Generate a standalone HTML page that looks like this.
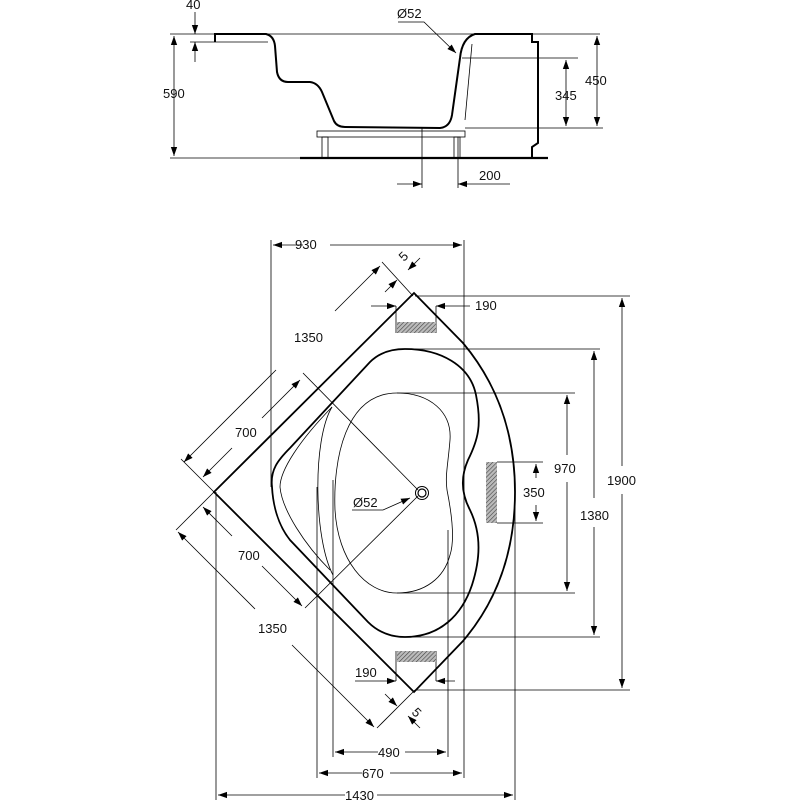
<!DOCTYPE html>
<html><head><meta charset="utf-8"><style>
html,body{margin:0;padding:0;background:#fff;}
svg{display:block;}
text{font-family:"Liberation Sans",Arial,sans-serif;font-size:13px;fill:#111;}
</style></head><body>
<svg width="800" height="800" viewBox="0 0 800 800" xmlns="http://www.w3.org/2000/svg">
<defs>
<marker id="a" viewBox="0 0 10 10" refX="10" refY="5" markerWidth="9" markerHeight="9" orient="auto-start-reverse" markerUnits="userSpaceOnUse"><path d="M0,1.5 L10,5 L0,8.5 z" fill="#000"/></marker>
<pattern id="h" width="3" height="3" patternUnits="userSpaceOnUse" patternTransform="rotate(45)"><rect width="3" height="3" fill="#bbb"/><line x1="0" y1="0" x2="0" y2="3" stroke="#444" stroke-width="1.2"/></pattern>
</defs>
<g fill="none" stroke="#000">
<!-- ===== TOP SECTION VIEW ===== -->
<g stroke-width="0.8">
<line x1="170" y1="34" x2="600" y2="34"/>
<line x1="190" y1="42" x2="215" y2="42"/>
<line x1="170" y1="158" x2="300" y2="158"/>
<line x1="462" y1="58" x2="578" y2="58"/>
<line x1="465" y1="128" x2="603" y2="128"/>
<line x1="195" y1="12" x2="195" y2="34" marker-end="url(#a)"/>
<line x1="195" y1="62" x2="195" y2="42" marker-end="url(#a)"/>
<line x1="174" y1="36" x2="174" y2="156" marker-start="url(#a)" marker-end="url(#a)"/>
<line x1="566" y1="60" x2="566" y2="126" marker-start="url(#a)" marker-end="url(#a)"/>
<line x1="597" y1="36" x2="597" y2="126" marker-start="url(#a)" marker-end="url(#a)"/>
<line x1="422" y1="128" x2="422" y2="188"/>
<line x1="458" y1="137" x2="458" y2="188"/>
<line x1="397" y1="184" x2="422" y2="184" marker-end="url(#a)"/>
<line x1="510" y1="184" x2="458" y2="184" marker-end="url(#a)"/>
<polyline points="398,22 424,22 456,53" marker-end="url(#a)"/>
<path d="M472,44 L465,120"/>
<line x1="215" y1="42" x2="268" y2="42"/>
<rect x="317" y="131" width="148" height="6"/>
<rect x="322" y="137" width="6" height="21"/>
<rect x="454" y="137" width="6" height="21"/>
</g>
<path stroke-width="2" d="M215,42 L215,34 L266,34 Q274,36 275,46 L277,72 Q279,82 288,82 L310,82 Q318,83 322,92 L334,121 Q337,127 345,127 L440,128 Q450,127 452,115 L460,58 Q462,38 475,34 L532,34 L532,42 L538,42 L538,143 L532,147 L532,158"/>
<line x1="300" y1="158" x2="548" y2="158" stroke-width="2.2"/>

<!-- ===== PLAN VIEW ===== -->
<g stroke-width="0.8">
<!-- vertical extension lines -->
<line x1="271" y1="240" x2="271" y2="487"/>
<line x1="464" y1="240" x2="464" y2="778"/>
<line x1="317" y1="487" x2="317" y2="778"/>
<line x1="333" y1="480" x2="333" y2="757"/>
<line x1="448" y1="530" x2="448" y2="757"/>
<line x1="216" y1="492" x2="216" y2="800"/>
<line x1="515" y1="492" x2="515" y2="800"/>
<!-- horizontal dims -->
<line x1="273" y1="245" x2="303" y2="245" marker-start="url(#a)"/>
<line x1="330" y1="245" x2="462" y2="245" marker-end="url(#a)"/>
<line x1="335" y1="752" x2="378" y2="752" marker-start="url(#a)"/>
<line x1="405" y1="752" x2="446" y2="752" marker-end="url(#a)"/>
<line x1="319" y1="773" x2="362" y2="773" marker-start="url(#a)"/>
<line x1="390" y1="773" x2="462" y2="773" marker-end="url(#a)"/>
<line x1="218" y1="795" x2="345" y2="795" marker-start="url(#a)"/>
<line x1="377" y1="795" x2="513" y2="795" marker-end="url(#a)"/>
<!-- right dims -->
<line x1="415" y1="296" x2="630" y2="296"/>
<line x1="415" y1="690" x2="630" y2="690"/>
<line x1="622" y1="298" x2="622" y2="466" marker-start="url(#a)"/>
<line x1="622" y1="494" x2="622" y2="688" marker-end="url(#a)"/>
<line x1="403" y1="349" x2="600" y2="349"/>
<line x1="403" y1="637" x2="600" y2="637"/>
<line x1="594" y1="351" x2="594" y2="498" marker-start="url(#a)"/>
<line x1="594" y1="527" x2="594" y2="635" marker-end="url(#a)"/>
<line x1="397" y1="393" x2="575" y2="393"/>
<line x1="397" y1="593" x2="575" y2="593"/>
<line x1="567" y1="395" x2="567" y2="455" marker-start="url(#a)"/>
<line x1="567" y1="482" x2="567" y2="591" marker-end="url(#a)"/>
<line x1="497" y1="462" x2="543" y2="462"/>
<line x1="497" y1="523" x2="543" y2="523"/>
<line x1="536" y1="464" x2="536" y2="478" marker-start="url(#a)"/>
<line x1="536" y1="505" x2="536" y2="521" marker-end="url(#a)"/>
<!-- 190 top -->
<line x1="371" y1="306" x2="396" y2="306" marker-end="url(#a)"/>
<line x1="470" y1="306" x2="436" y2="306" marker-end="url(#a)"/>
<line x1="396" y1="306" x2="396" y2="333"/><line x1="436" y1="306" x2="436" y2="333"/>
<!-- 190 bottom -->
<line x1="355" y1="681" x2="396" y2="681" marker-end="url(#a)"/>
<line x1="455" y1="681" x2="436" y2="681" marker-end="url(#a)"/>
<line x1="396" y1="651" x2="396" y2="681"/><line x1="436" y1="651" x2="436" y2="681"/>
<!-- diagonal dims -->
<line x1="382" y1="262" x2="413" y2="296"/>
<line x1="377" y1="728" x2="415" y2="690"/>
<line x1="214" y1="492" x2="181" y2="459"/>
<line x1="214" y1="492" x2="176" y2="530"/>
<line x1="184" y1="462" x2="276" y2="370"/>
<line x1="335" y1="311" x2="380" y2="266" marker-end="url(#a)"/>
<line x1="184" y1="462" x2="188" y2="458" marker-start="url(#a)"/>
<line x1="203" y1="477" x2="232" y2="448" marker-start="url(#a)"/>
<line x1="262" y1="418" x2="300" y2="380" marker-end="url(#a)"/>
<line x1="303" y1="373" x2="418" y2="490"/>
<line x1="305" y1="608" x2="418" y2="496"/>
<line x1="203" y1="507" x2="232" y2="536" marker-start="url(#a)"/>
<line x1="262" y1="566" x2="302" y2="606" marker-end="url(#a)"/>
<line x1="178" y1="532" x2="255" y2="609" marker-start="url(#a)"/>
<line x1="292" y1="645" x2="374" y2="727" marker-end="url(#a)"/>
<!-- 5 dims -->
<line x1="385" y1="292" x2="397" y2="280" marker-end="url(#a)"/>
<line x1="420" y1="258" x2="408" y2="270" marker-end="url(#a)"/>
<line x1="385" y1="694" x2="397" y2="706" marker-end="url(#a)"/>
<line x1="420" y1="728" x2="408" y2="716" marker-end="url(#a)"/>
<!-- drain leader -->
<polyline points="352,510 383,510 410,498" marker-end="url(#a)"/>
<!-- inner seat & kidney -->
<path d="M332,407 C300,440 280,470 280,487 C282,510 305,545 330,570"/>
<path d="M332,407 C312,440 314,540 333,575"/>
<path d="M397,393 C430,393 452,412 450,440 C448,465 445,475 447,490 C452,515 455,540 450,555 C444,578 425,593 397,593 C365,593 338,560 335,510 C333,460 345,393 397,393 Z"/>
</g>
<!-- hatched boxes -->
<rect x="397" y="322" width="39" height="11" fill="url(#h)" stroke="none"/>
<rect x="397" y="651" width="39" height="11" fill="url(#h)" stroke="none"/>
<rect x="486" y="462" width="11" height="61" fill="url(#h)" stroke="none"/>
<!-- outer shell -->
<path stroke-width="1.8" d="M414,293 L463,343 Q515,405 515,492 Q515,580 463,641 L414,692 L214,492 Z"/>
<!-- rim -->
<path stroke-width="1.8" d="M272,487 C270,470 278,460 290,448 L370,362 C380,352 392,349 405,349 C440,349 470,365 476,395 C482,425 478,440 468,460 C460,478 462,495 470,510 C482,535 480,560 472,585 C462,615 440,637 405,637 C390,637 378,632 368,622 L290,540 C278,525 273,505 272,487 Z"/>
<circle cx="422" cy="493" r="6.5" stroke-width="1"/>
<circle cx="422" cy="493" r="4" stroke-width="1.2"/>
</g>
<!-- labels -->
<text x="186" y="9">40</text>
<text x="163" y="98">590</text>
<text x="397" y="18">Ø52</text>
<text x="555" y="100">345</text>
<text x="585" y="85">450</text>
<text x="479" y="180">200</text>
<text x="295" y="249">930</text>
<text x="475" y="310">190</text>
<text x="294" y="342">1350</text>
<text x="235" y="437">700</text>
<text x="353" y="507">Ø52</text>
<text x="238" y="560">700</text>
<text x="258" y="633">1350</text>
<text x="355" y="677">190</text>
<text x="554" y="473">970</text>
<text x="523" y="497">350</text>
<text x="580" y="520">1380</text>
<text x="607" y="485">1900</text>
<text x="378" y="757">490</text>
<text x="362" y="778">670</text>
<text x="345" y="800">1430</text>
<text x="0" y="0" transform="translate(404,262) rotate(-45)">5</text>
<text x="0" y="0" transform="translate(411,713) rotate(45)">5</text>
</svg>
</body></html>
